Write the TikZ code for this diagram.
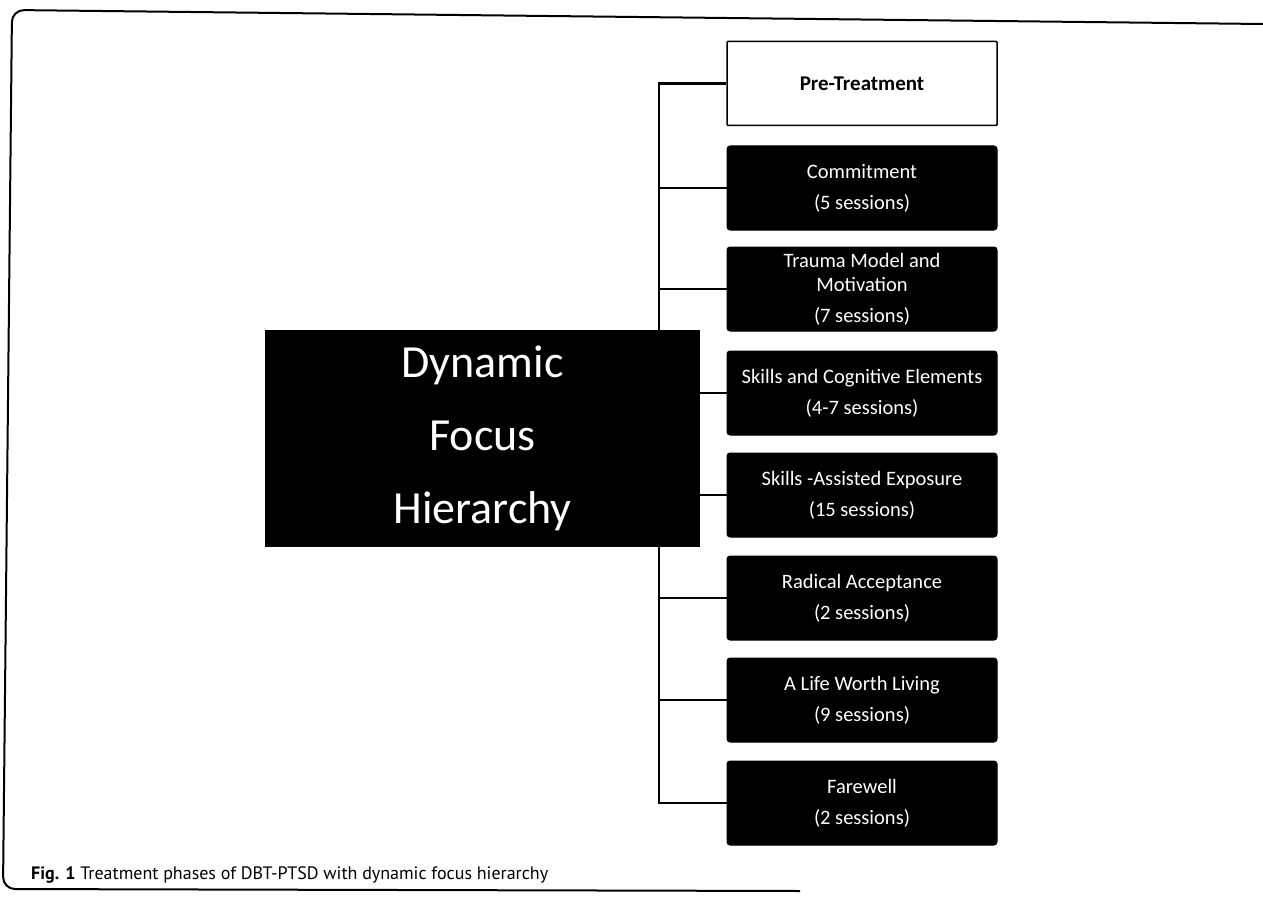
\documentclass[tikz,border=0pt]{standalone}
\usepackage{fontspec}
\setmainfont{Carlito}
\newfontfamily\capfont{PT Sans}
\begin{document}
\begin{tikzpicture}[x=1pt,y=-1pt,
  phase/.style={draw=black, fill=black, rounded corners=3pt, minimum width=270pt,
    minimum height=84pt, text=white, font=\fontsize{20.5}{31}\selectfont,
    align=center, inner sep=0pt, line width=1pt},
  pre/.style={phase, fill=white, text=black, font=\fontsize{21}{25}\selectfont\bfseries,
    line width=1.5pt, rounded corners=1pt},
  link/.style={line width=2.5pt},
  frame/.style={line width=2pt, rounded corners=12pt}]
\useasboundingbox (0,0) rectangle (1263,904);
\draw[frame] (1263,24) -- (12,10) -- (3,889) -- (800,891);

\node[pre]   (pt) at (862,83.5) {Pre-Treatment};
\node[phase] (cm) at (862,188)  {Commitment\\(5 sessions)};
\node[phase, font=\fontsize{20.5}{24}\selectfont] (tm) at (862,289)
  {Trauma Model and\\Motivation\\[7pt](7 sessions)};
\node[phase] (sc) at (862,393)  {Skills and Cognitive Elements\\(4-7 sessions)};
\node[phase] (sa) at (862,495)  {Skills -Assisted Exposure\\(15 sessions)};
\node[phase] (ra) at (862,598)  {Radical Acceptance\\(2 sessions)};
\node[phase] (lw) at (862,700)  {A Life Worth Living\\(9 sessions)};
\node[phase] (fw) at (862,803)  {Farewell\\(2 sessions)};

\coordinate (trunk) at (659,0);
\draw[link] (pt.west) -- (pt.west -| trunk) -- (fw.west -| trunk) -- (fw.west);
\foreach \n in {cm,tm,ra,lw}{
  \draw[link] (\n.west) -- (\n.west -| trunk);
}

\node[fill=black, minimum width=435pt, minimum height=217pt, inner sep=0pt,
  text=white, font=\fontsize{46}{73}\selectfont, align=center]
  (main) at (482.5,438.5) {Dynamic\\Focus\\Hierarchy};

\draw[link] (sc.west) -- (sc.west -| main.east);
\draw[link] (sa.west) -- (sa.west -| main.east);

\node[anchor=base west, inner sep=0pt, font=\capfont\fontsize{18}{21}\selectfont]
  (cap) at (31,879) {\textbf{Fig. 1} Treatment phases of DBT-PTSD with dynamic focus hierarchy};
\end{tikzpicture}
\end{document}
